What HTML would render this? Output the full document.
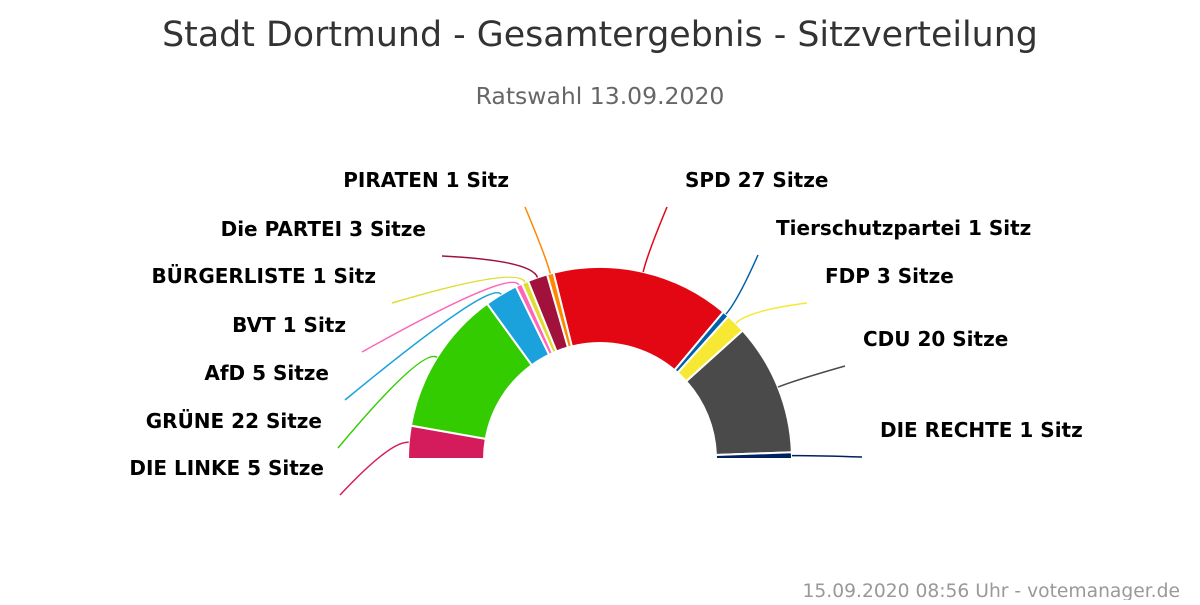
<!DOCTYPE html>
<html><head><meta charset="utf-8"><style>
body{margin:0;background:#fff;width:1200px;height:600px;overflow:hidden}
svg text{font-family:"DejaVu Sans","Liberation Sans",sans-serif}
</style></head><body>
<svg id="chart" width="1200" height="600" xmlns="http://www.w3.org/2000/svg">
<text x="600" y="46" text-anchor="middle" font-size="34.8" fill="#333">Stadt Dortmund - Gesamtergebnis - Sitzverteilung</text>
<text x="600" y="104" text-anchor="middle" font-size="23.5" fill="#666">Ratswahl 13.09.2020</text>
<text x="1180" y="597" text-anchor="end" font-size="18.7" fill="#999">15.09.2020 08:56 Uhr - votemanager.de</text>
<g id="slices"></g><g id="leaders"></g><g id="labels"></g>
</svg>
<script>
const parties = ["DIE LINKE","GRÜNE","AfD","BVT","BÜRGERLISTE","Die PARTEI","PIRATEN","SPD","Tierschutzpartei","FDP","CDU","DIE RECHTE"];
const seats = [5,22,5,1,1,3,1,27,1,3,20,1];
const colors = ["#d41c5c","#33cc00","#1ba1db","#ff66bb","#dddd33","#a0123c","#ff8800","#e30613","#0060aa","#f7e933","#4a4a4a","#002060"];
// label anchor layout (connector end points)
const anchors = [[340,495],[338,448],[345,400],[362,352],[392,303],[442,256],[525,207],[667,207],[758,255],[807,303],[845,366],[862,457]];
const cx=600, cy=459, R=192, r=116;
const NS="http://www.w3.org/2000/svg";
const total = seats.reduce((a,b)=>a+b,0);
function pt(rad,ang){return [cx+rad*Math.cos(ang), cy-rad*Math.sin(ang)];}
let acc=0;
const sg=document.getElementById('slices'), lg=document.getElementById('leaders'), tg=document.getElementById('labels');
seats.forEach((s,i)=>{
  const a0=Math.PI*(1-acc/total), a1=Math.PI*(1-(acc+s)/total); acc+=s;
  const p0=pt(R,a0),p1=pt(R,a1),q1=pt(r,a1),q0=pt(r,a0);
  const p=document.createElementNS(NS,'path');
  p.setAttribute('d',`M${p0[0]},${p0[1]} A${R},${R} 0 0 1 ${p1[0]},${p1[1]} L${q1[0]},${q1[1]} A${r},${r} 0 0 0 ${q0[0]},${q0[1]} Z`);
  p.setAttribute('fill',colors[i]);p.setAttribute('stroke','#fff');p.setAttribute('stroke-width','2');
  
  
  sg.appendChild(p);
  const am=(a0+a1)/2, e=pt(R,am), m=pt(R+18,am), [ax,ay]=anchors[i];
  const l=document.createElementNS(NS,'path');
  l.setAttribute('d',`M${ax},${ay} Q${m[0]},${m[1]} ${e[0]},${e[1]}`);
  l.setAttribute('fill','none');l.setAttribute('stroke',colors[i]);l.setAttribute('stroke-width','1.5');
  
  
  lg.appendChild(l);
  const left = am>Math.PI/2;
  const t=document.createElementNS(NS,'text');
  t.setAttribute('x', left? ax-16 : ax+18);
  t.setAttribute('y', ay-20);
  t.setAttribute('text-anchor', left?'end':'start');
  t.setAttribute('font-size','20');t.setAttribute('font-weight','bold');t.setAttribute('fill','#000');
  t.textContent = parties[i]+' '+s+(s===1?' Sitz':' Sitze');
  
  
  tg.appendChild(t);
});
</script>
</body></html>
